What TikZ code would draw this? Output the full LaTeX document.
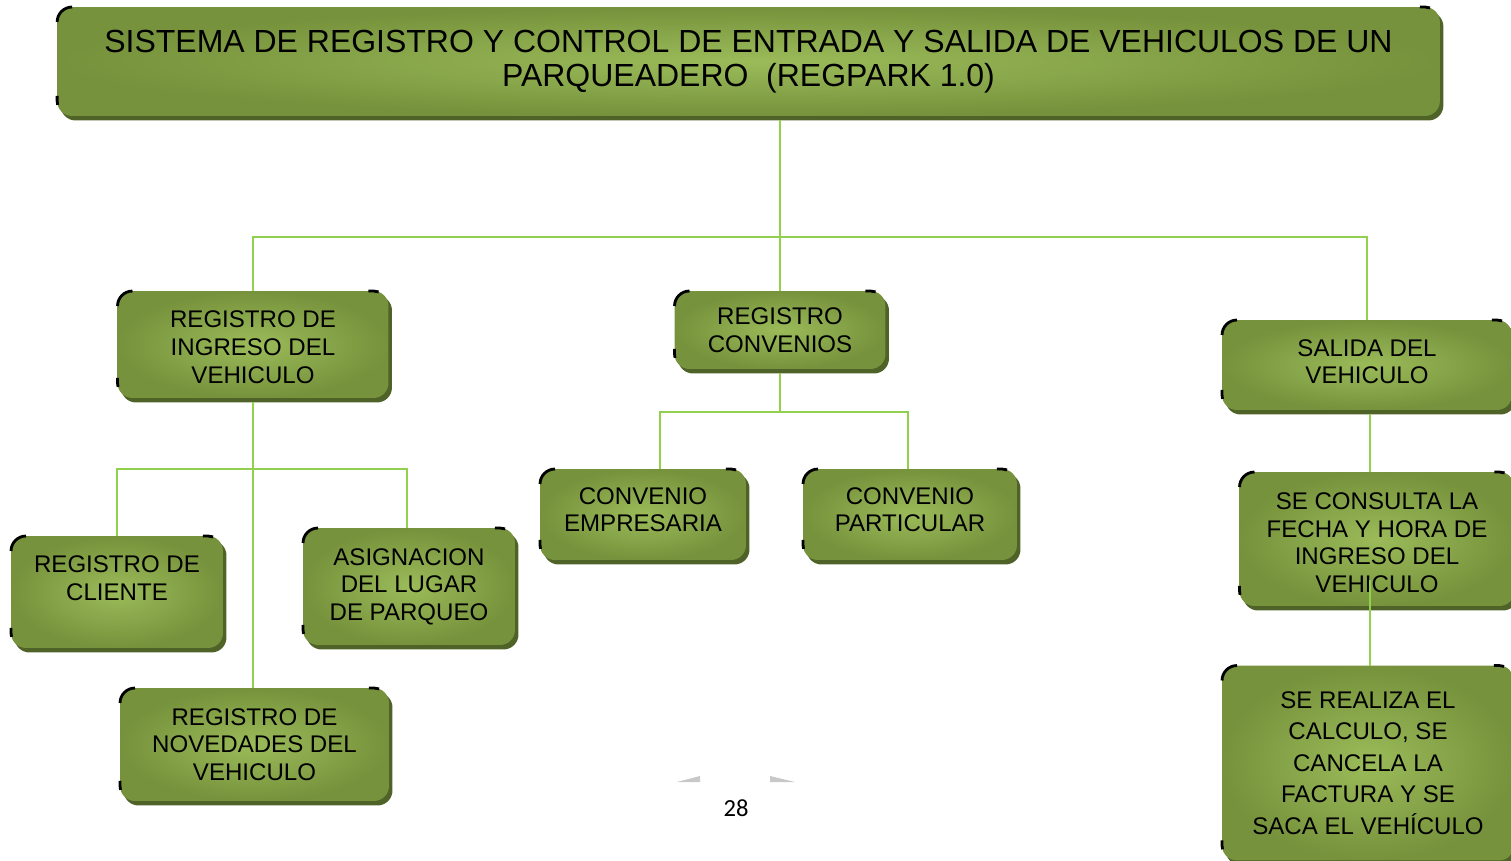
\documentclass[tikz,border=0pt]{standalone}
\usepackage{fontspec}
\setmainfont{Liberation Sans}
\newfontfamily\pagefont{Carlito}
\usetikzlibrary{shadows}

\definecolor{boxlight}{HTML}{9BBB59}
\definecolor{boxdark}{HTML}{76923C}
\definecolor{boxshadow}{HTML}{4F6228}
\definecolor{linkgreen}{HTML}{92D050}
\definecolor{wedgegray}{HTML}{C8C8C8}

\tikzset{
	greenbox/.style={rectangle, rounded corners=0.3cm, inner color=boxlight, outer color=boxdark,
		align=center, outer sep=0pt, inner sep=2pt, font=\fontsize{13.7}{15.7}\selectfont,
		drop shadow={shadow xshift=0.07cm, shadow yshift=-0.09cm, fill=boxshadow, opacity=1}},
	link/.style={linkgreen, line width=1.3pt},
	cornermark/.style={black, line width=1.6pt},
}

\begin{document}
\begin{tikzpicture}[x=0.02cm, y=-0.02cm]
	\useasboundingbox (0,0) rectangle (1511,861);
	
	% draw title
	\node[greenbox, minimum width=27.66cm, minimum height=2.18cm, font=\fontsize{18.2}{19.5}\selectfont] (title) at (748.5,61.5)
		{SISTEMA DE REGISTRO Y CONTROL DE ENTRADA Y SALIDA DE VEHICULOS DE UN\\PARQUEADERO\ \ (REGPARK 1.0)};
	
	% draw nodes
	\node[greenbox, minimum width=5.42cm, minimum height=2.14cm] (ingreso) at (253,344.5) {\mbox{}\\[-3pt]REGISTRO DE\\INGRESO DEL\\VEHICULO};
	\node[greenbox, minimum width=4.22cm, minimum height=1.56cm] (convenios) at (780,330) {REGISTRO\\CONVENIOS};
	\node[greenbox, minimum width=5.8cm, minimum height=1.8cm] (salida) at (1367,365) {SALIDA DEL\\VEHICULO\\[-12pt]\mbox{}};
	
	\node[greenbox, minimum width=4.24cm, minimum height=2.24cm] (cliente) at (117,592) {REGISTRO DE\\CLIENTE\\\mbox{}};
	\node[greenbox, minimum width=4.24cm, minimum height=2.34cm] (lugar) at (409,586.5) {ASIGNACION\\DEL LUGAR\\DE PARQUEO};
	\node[greenbox, minimum width=5.38cm, minimum height=2.26cm] (novedades) at (254.5,744.5) {REGISTRO DE\\NOVEDADES DEL\\VEHICULO};
	
	\node[greenbox, minimum width=4.12cm, minimum height=1.82cm] (empresa) at (643,514.5) {CONVENIO\\EMPRESARIA\\[-10pt]\mbox{}};
	\node[greenbox, minimum width=4.28cm, minimum height=1.82cm] (particular) at (910,514.5) {CONVENIO\\PARTICULAR\\[-10pt]\mbox{}};
	
	\node[greenbox, minimum width=5.5cm, minimum height=2.68cm] (consulta) at (1377,539) {\mbox{}\\[-2pt]SE CONSULTA LA\\FECHA Y HORA DE\\INGRESO DEL\\VEHICULO};
	\node[greenbox, minimum width=5.84cm, minimum height=3.9cm, font=\fontsize{13.7}{18}\selectfont] (calculo) at (1368,763)
		{SE REALIZA EL\\CALCULO, SE\\CANCELA LA\\FACTURA Y SE\\SACA EL VEH\'ICULO};
	
	% corner marks
	\foreach \b in {title,ingreso,convenios,salida,cliente,lugar,novedades,empresa,particular,consulta,calculo}{
		\draw[cornermark] ([yshift=-0.3cm]\b.north west) arc[start angle=180, end angle=90, radius=0.3cm];
		\draw[cornermark] ([xshift=-0.4cm]\b.north east) -- ([xshift=-0.3cm]\b.north east) arc[start angle=90, end angle=70, radius=0.3cm];
		\draw[cornermark] ([yshift=0.4cm]\b.south west) -- ([yshift=0.3cm]\b.south west) arc[start angle=180, end angle=195, radius=0.3cm];
	}
	
	%%% links
	\coordinate (topbus) at (0,237);
	\coordinate (ingbus) at (0,469);
	\coordinate (conbus) at (0,412);
	\draw[link] ([yshift=-0.09cm]convenios.north |- title.south) -- (convenios.north);
	\draw[link] (ingreso.north) -- (ingreso.north |- topbus) -- (salida.north |- topbus) -- (salida.north);
	
	\draw[link] ([yshift=-0.09cm]ingreso.south) -- (ingreso.south |- novedades.north);
	\draw[link] (cliente.north) -- (cliente.north |- ingbus) -- ([xshift=-0.04cm]lugar.north |- ingbus) -- ([xshift=-0.04cm]lugar.north);
	
	\draw[link] ([yshift=-0.09cm]convenios.south) -- (convenios.south |- conbus);
	\draw[link] ([xshift=0.34cm]empresa.north) -- ([xshift=0.34cm]empresa.north |- conbus)
		-- ([xshift=-0.04cm]particular.north |- conbus) -- ([xshift=-0.04cm]particular.north);
	
	\draw[link] ([xshift=0.06cm, yshift=-0.09cm]salida.south) -- ([xshift=0.06cm]salida.south |- consulta.north);
	\coordinate (cut) at (1370,580);
	\draw[link] (cut) -- (cut |- calculo.north);
	
	% page number
	\node[font=\pagefont\fontsize{14}{16}\selectfont] (pagenum) at (736,808) {28};
	\fill[wedgegray] (677,782) -- (700,776) -- (700,782) -- cycle;
	\fill[wedgegray] (770,776) -- (795,782) -- (770,782) -- cycle;
\end{tikzpicture}
\end{document}
